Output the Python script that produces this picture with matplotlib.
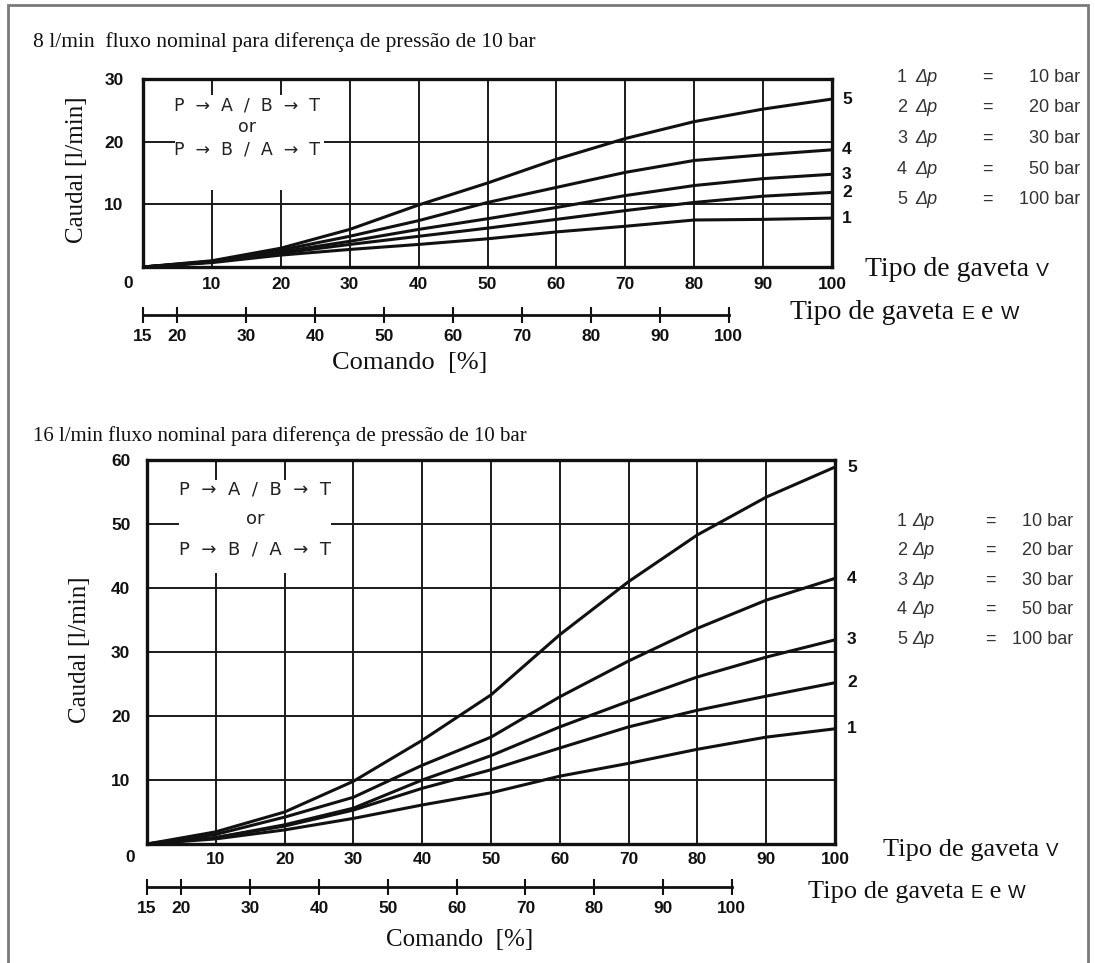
import matplotlib
matplotlib.use('Agg')
import matplotlib.pyplot as plt
from matplotlib.patches import Rectangle

# ---------------- data ----------------
x_cmd = [0, 10, 20, 30, 40, 50, 60, 70, 80, 90, 100]

top_q1 = [0, 0.7, 1.9, 2.8, 3.6, 4.5, 5.6, 6.5, 7.5, 7.6, 7.8]
top_q2 = [0, 0.8, 2.2, 3.6, 4.9, 6.2, 7.6, 9.0, 10.3, 11.3, 11.9]
top_q3 = [0, 0.8, 2.4, 4.1, 6.0, 7.7, 9.5, 11.4, 13.0, 14.1, 14.8]
top_q4 = [0, 0.9, 2.7, 4.9, 7.4, 10.3, 12.7, 15.1, 17.0, 17.9, 18.7]
top_q5 = [0, 1.0, 3.0, 6.0, 9.9, 13.4, 17.2, 20.5, 23.2, 25.2, 26.8]

bot_q1 = [0, 0.8, 2.2, 4.0, 6.1, 8.0, 10.6, 12.6, 14.8, 16.7, 18.0]
bot_q2 = [0, 1.0, 2.8, 5.3, 8.7, 11.6, 15.0, 18.3, 20.9, 23.1, 25.2]
bot_q3 = [0, 1.0, 3.0, 5.6, 10.0, 13.8, 18.3, 22.3, 26.1, 29.2, 31.9]
bot_q4 = [0, 1.5, 4.2, 7.3, 12.3, 16.7, 23.0, 28.6, 33.7, 38.1, 41.5]
bot_q5 = [0, 1.9, 5.0, 9.8, 16.2, 23.3, 32.7, 41.0, 48.3, 54.2, 58.9]

curve_labels = ['1', '2', '3', '4', '5']
legend_num = ['1', '2', '3', '4', '5']
legend_val = ['10 bar', '20 bar', '30 bar', '50 bar', '100 bar']

x_ticks = [10, 20, 30, 40, 50, 60, 70, 80, 90, 100]
top_yticks = [10, 20, 30]
bot_yticks = [10, 20, 30, 40, 50, 60]
ew_ticks = [15, 20, 30, 40, 50, 60, 70, 80, 90, 100]
ew_offset = 15

title_top = '8 l/min  fluxo nominal para diferença de pressão de 10 bar'
title_bot = '16 l/min fluxo nominal para diferença de pressão de 10 bar'
ylabel = 'Caudal [l/min]'
xlabel = 'Comando  [%]'
box_lines = ['P  →  A  /  B  →  T', 'or', 'P  →  B  /  A  →  T']

# ---------------- styling ----------------
W, H = 1095, 963
SERIF = ['Liberation Serif', 'DejaVu Serif']
SANS = ['Liberation Sans Narrow', 'Liberation Sans', 'DejaVu Sans']
SANS_R = ['Liberation Sans', 'DejaVu Sans']
BOXF = ['DejaVu Sans']
INK = '#111111'

fig = plt.figure(figsize=(W / 100, H / 100), dpi=100)
fig.patch.set_facecolor('white')

def fx(px):
    return px / W

def fy(py):
    return 1 - py / H

# outer frame
fig.patches.append(Rectangle((fx(8), fy(975)), fx(1088) - fx(8), fy(5) - fy(975),
                             transform=fig.transFigure, fill=False,
                             edgecolor='#7a7a7a', lw=2.0))


def make_chart(rect, ymax, yticks, series, box, ytick_pad, xtick_pad):
    ax = fig.add_axes(rect)
    ax.set_xlim(0, 100)
    ax.set_ylim(0, ymax)
    ax.set_xticks(x_ticks)
    ax.set_yticks(yticks)
    ax.set_axisbelow(True)
    ax.grid(True, color='#1a1a1a', lw=1.4)
    for s in ax.spines.values():
        s.set_linewidth(2.4)
        s.set_color(INK)
    ax.tick_params(length=0, labelsize=12.5, colors=INK)
    ax.tick_params(axis='y', pad=ytick_pad)
    ax.tick_params(axis='x', pad=xtick_pad)
    for lab in ax.get_xticklabels() + ax.get_yticklabels():
        lab.set_family(SANS)
        lab.set_fontweight('bold')
    ax.add_patch(Rectangle((box[0], box[1]), box[2] - box[0], box[3] - box[1],
                           facecolor='white', edgecolor='none', zorder=1))
    for ys in series:
        ax.plot(x_cmd, ys, color=INK, lw=2.2, zorder=3, solid_joinstyle='round')
    return ax


def ew_axis(rect):
    a = fig.add_axes(rect)
    a.set_xlim(ew_offset, 100 + ew_offset)
    a.set_ylim(0, 1)
    a.patch.set_alpha(0)
    for k in ('top', 'left', 'right'):
        a.spines[k].set_visible(False)
    a.spines['bottom'].set_bounds(ew_ticks[0], ew_ticks[-1])
    a.spines['bottom'].set_linewidth(2.0)
    a.spines['bottom'].set_color(INK)
    a.set_yticks([])
    a.set_xticks(ew_ticks)
    a.tick_params(axis='x', direction='inout', length=12, width=1.5,
                  labelsize=12.5, pad=4, colors=INK)
    for lab in a.get_xticklabels():
        lab.set_family(SANS)
        lab.set_fontweight('bold')
    return a


def seq_text(x, y, pieces):
    """pieces: list of (text, family, size) drawn left to right."""
    fig.canvas.draw()
    r = fig.canvas.get_renderer()
    cur = x
    for txt, fam, size in pieces:
        t = fig.text(fx(cur), fy(y), txt, family=fam, fontsize=size,
                     va='baseline', ha='left', color=INK)
        bb = t.get_window_extent(renderer=r)
        cur += bb.width


def legend_block(x_num, x_dp, x_eq, x_right, y0, dy):
    for i in range(5):
        y = y0 + i * dy
        fig.text(fx(x_num), fy(y), legend_num[i], family=SANS_R, fontsize=13,
                 va='center', ha='left', color='#333333')
        fig.text(fx(x_dp), fy(y), 'Δp', family=SANS_R, fontsize=13, style='italic',
                 va='center', ha='left', color='#333333')
        fig.text(fx(x_eq), fy(y), '=', family=SANS_R, fontsize=13,
                 va='center', ha='center', color='#333333')
        fig.text(fx(x_right), fy(y), legend_val[i], family=SANS_R, fontsize=13,
                 va='center', ha='right', color='#333333')


def curve_end_labels(ax, series, dx):
    for lab, ys in zip(curve_labels, series):
        ax.annotate(lab, xy=(100, ys[-1]), xycoords='data',
                    xytext=(dx, 0), textcoords='offset pixels',
                    ha='left', va='center', family=SANS, fontweight='bold',
                    fontsize=12.5, color=INK, annotation_clip=False)


# ---------------- top chart ----------------
top_series = [top_q1, top_q2, top_q3, top_q4, top_q5]
ax1 = make_chart([fx(143), fy(267), (832 - 143) / W, (267 - 79) / H], 30,
                 top_yticks, top_series, (4.6, 12.3, 26.2, 27.4),
                 ytick_pad=14, xtick_pad=7)
ax1.annotate('0', xy=(0, 0), xycoords='axes fraction', xytext=(-15, -16),
             textcoords='offset pixels', ha='center', va='center',
             family=SANS, fontweight='bold', fontsize=12.5, color=INK)
curve_end_labels(ax1, top_series, 10)
ew_axis([fx(143), fy(315), (832 - 143) / W, 0.0005])

fig.text(fx(33), fy(42), title_top, family=SERIF, fontsize=15.5, va='center',
         ha='left', color=INK)
fig.text(fx(77), fy(170), ylabel, family=SERIF, fontsize=18, rotation=90,
         va='center', ha='center', color=INK)
fig.text(fx(410), fy(363), xlabel, family=SERIF, fontsize=19, va='center',
         ha='center', color=INK)
for i, s in enumerate(box_lines):
    fig.text(fx(247), fy(105 + i * 22), s, family=BOXF, fontsize=12.5,
             va='center', ha='center', color='#222222')
legend_block(897, 915, 987, 1080, 77, 30.7)

# ---------------- bottom chart ----------------
bot_series = [bot_q1, bot_q2, bot_q3, bot_q4, bot_q5]
ax2 = make_chart([fx(147), fy(844), (835 - 147) / W, (844 - 460) / H], 60,
                 bot_yticks, bot_series, (4.7, 42.3, 26.8, 56.9),
                 ytick_pad=12, xtick_pad=6)
ax2.annotate('0', xy=(0, 0), xycoords='axes fraction', xytext=(-17, -13),
             textcoords='offset pixels', ha='center', va='center',
             family=SANS, fontweight='bold', fontsize=12.5, color=INK)
curve_end_labels(ax2, bot_series, 12)
ew_axis([fx(147), fy(887), (835 - 147) / W, 0.0005])

fig.text(fx(33), fy(436), title_bot, family=SERIF, fontsize=15, va='center',
         ha='left', color=INK)
fig.text(fx(80), fy(650), ylabel, family=SERIF, fontsize=18, rotation=90,
         va='center', ha='center', color=INK)
fig.text(fx(460), fy(940), xlabel, family=SERIF, fontsize=18, va='center',
         ha='center', color=INK)
for i, s in enumerate(box_lines):
    fig.text(fx(255), fy(489 + i * 30), s, family=BOXF, fontsize=13,
             va='center', ha='center', color='#222222')
legend_block(897, 912, 990, 1073, 521, 29.5)

# ---------------- spool type captions ----------------
seq_text(865, 276, [('Tipo de gaveta ', SERIF, 20), ('V', SANS_R, 14)])
seq_text(790, 319, [('Tipo de gaveta ', SERIF, 20), ('E', SANS_R, 14),
                    (' e ', SERIF, 20), ('W', SANS_R, 14)])
seq_text(883, 856, [('Tipo de gaveta ', SERIF, 19), ('V', SANS_R, 13.5)])
seq_text(808, 898, [('Tipo de gaveta ', SERIF, 19), ('E', SANS_R, 13.5),
                    (' e ', SERIF, 19), ('W', SANS_R, 13.5)])

fig.savefig('out.png', dpi=100, facecolor='white')
